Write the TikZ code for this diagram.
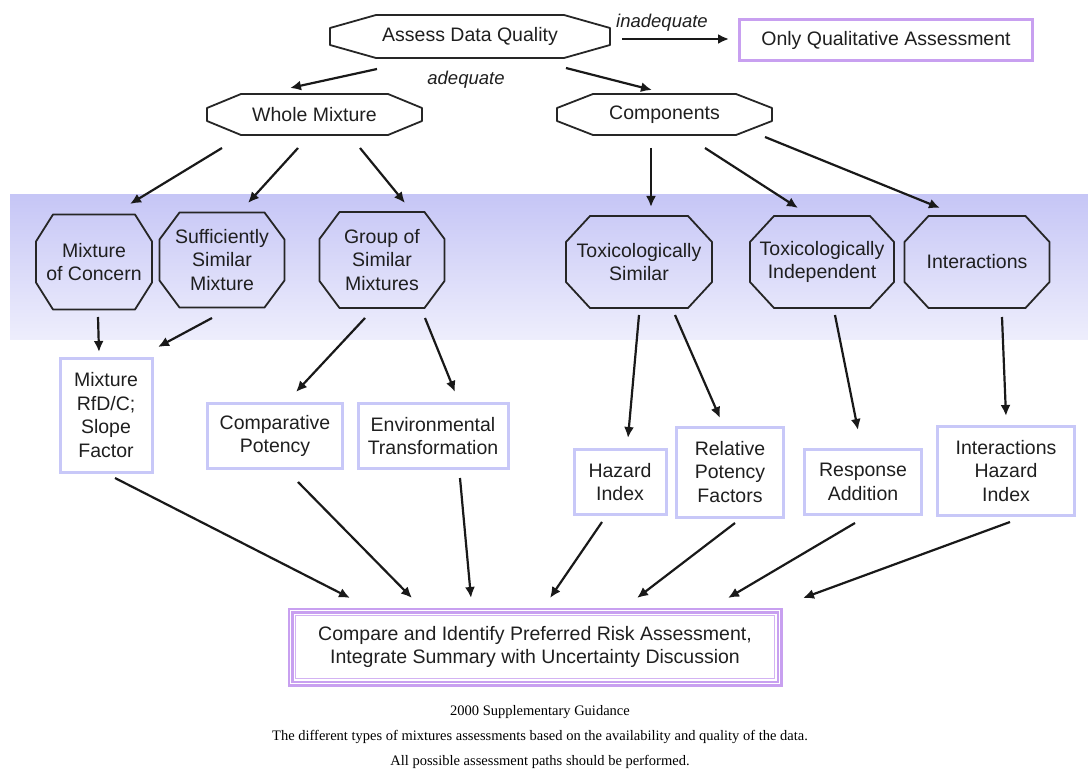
\documentclass[tikz,border=0pt]{standalone}
\usepackage{fontspec}
\setmainfont{Liberation Sans}
\newfontfamily\capfont{Liberation Serif}
\usetikzlibrary{arrows.meta,calc}
\definecolor{lav}{RGB}{200,200,248}
\definecolor{purp}{RGB}{200,160,240}
\definecolor{bandtop}{RGB}{198,198,246}
\definecolor{bandbot}{RGB}{238,238,252}
\newcommand\octshape[8]{%
  \node[lbl, minimum width=#4pt, minimum height=#5pt] (#1) at (#2,#3) {#8};
  \draw[shp] ([xshift=#6pt]#1.north west) -- ([xshift=-#6pt]#1.north east)
    -- ([yshift=-#7pt]#1.north east) -- ([yshift=#7pt]#1.south east)
    -- ([xshift=-#6pt]#1.south east) -- ([xshift=#6pt]#1.south west)
    -- ([yshift=#7pt]#1.south west) -- ([yshift=-#7pt]#1.north west) -- cycle;}
\newcommand\conn[4]{\draw[arr] ([shift={#2}]#1.center) -- ([shift={#4}]#3.center);}
\begin{document}
\begin{tikzpicture}[x=1pt,y=-1pt,
  lbl/.style={inner sep=0pt, outer sep=0pt, align=center,
    font=\fontsize{19.5}{23.5}\selectfont, text=black!88},
  shp/.style={draw=black!85, line width=1.8pt, line join=round},
  bx/.style={lbl, draw=lav, line width=3pt},
  lab/.style={inner sep=0pt, font=\itshape\fontsize{18.5}{22}\selectfont, text=black!88},
  captext/.style={inner sep=0pt, font=\capfont\fontsize{14.5}{17}\selectfont},
  arr/.style={-{Latex[length=11pt,width=10pt]}, line width=2.2pt, draw=black!90}]
\useasboundingbox (0,0) rectangle (1088,778);
\shade[top color=bandtop, bottom color=bandbot] (10,195) rectangle (1088,340);

\octshape{adq}{470}{36.5}{280}{43}{46}{13}{Assess Data Quality}
\octshape{wm}{314.5}{114.5}{215}{41}{34}{14}{Whole Mixture}
\octshape{comp}{664.5}{114.5}{215}{41}{36}{14}{Components}
\octshape{moc}{94}{262}{116}{95}{17}{27}{Mixture\\of Concern}
\octshape{ssm}{222}{260}{125}{95}{20}{27}{Sufficiently\\Similar\\Mixture}
\octshape{gsm}{382}{260}{125}{96}{20}{27}{Group of\\Similar\\Mixtures}
\octshape{ts}{639}{262}{146}{92}{24}{26}{Toxicologically\\Similar}
\octshape{ti}{822}{262}{144}{92}{24}{26}{Toxicologically\\Independent}
\octshape{int}{977}{262}{145}{92}{24}{26}{Interactions}

\node[bx, draw=purp, minimum width=293pt, minimum height=41pt] (oqa) at (886,40.5) {Only Qualitative Assessment};
\node[bx, minimum width=92pt, minimum height=114pt] (rfd) at (106,415) {Mixture\\RfD/C;\\Slope\\Factor};
\node[bx, minimum width=135pt, minimum height=65pt] (cp) at (275,436) {Comparative\\Potency};
\node[bx, minimum width=150pt, minimum height=65pt] (et) at (433,436) {Environmental\\Transformation};
\node[bx, minimum width=92pt, minimum height=65pt] (hi) at (620,482) {Hazard\\Index};
\node[bx, minimum width=107pt, minimum height=90pt] (rpf) at (730,472) {Relative\\Potency\\Factors};
\node[bx, minimum width=117pt, minimum height=65pt] (ra) at (863,482) {Response\\Addition};
\node[bx, minimum width=137pt, minimum height=89pt] (ihi) at (1006,471) {Interactions\\Hazard\\Index};
\node[lbl, draw=purp, line width=2.2pt, double=white, double distance=1.6pt,
  minimum width=489pt, minimum height=73pt] (final) at (535,647)
  {Compare and Identify Preferred Risk Assessment,\\Integrate Summary with Uncertainty Discussion};
\draw[purp!80, line width=1.4pt] ([shift={(5,5)}]final.north west) rectangle ([shift={(-5,-5)}]final.south east);

\node[lab] (inad) at (662,23) {inadequate};
\node[lab] (adql) at (466,80) {adequate};

\conn{adq}{(-93,32.5)}{wm}{(-24.5,-26.5)}
\conn{adq}{(96,31.5)}{comp}{(-12.5,-24.5)}
\conn{adq}{(152,2.5)}{oqa}{(-157,-1.5)}
\conn{wm}{(-92.5,33.5)}{moc}{(36,-58)}
\conn{wm}{(-16.5,33.5)}{ssm}{(26,-57)}
\conn{wm}{(45.5,33.5)}{gsm}{(23,-57)}
\conn{comp}{(-13.5,33.5)}{ts}{(12,-55)}
\conn{comp}{(40.5,33.5)}{ti}{(-24,-54)}
\conn{comp}{(100.5,22.5)}{int}{(-37,-54)}
\conn{moc}{(4,55)}{rfd}{(-7,-63)}
\conn{ssm}{(-10,58)}{rfd}{(52,-68)}
\conn{gsm}{(-17,58)}{cp}{(21,-44)}
\conn{gsm}{(43,58)}{et}{(22,-44)}
\conn{ts}{(0,53)}{hi}{(8,-44)}
\conn{ts}{(36,53)}{rpf}{(-10,-54)}
\conn{ti}{(13,53)}{ra}{(-5,-52)}
\conn{int}{(25,55)}{ihi}{(0,-55)}
\conn{rfd}{(9,63)}{final}{(-185,-49)}
\conn{cp}{(23,46)}{final}{(-123,-49)}
\conn{et}{(27,42)}{final}{(-64,-49)}
\conn{hi}{(-18,40)}{final}{(15,-49)}
\conn{rpf}{(5,51)}{final}{(102,-49)}
\conn{ra}{(-8,41)}{final}{(193,-49)}
\conn{ihi}{(4,51)}{final}{(268,-49)}

\node[captext] (c1) at (540,712) {2000 Supplementary Guidance};
\node[captext] (c2) at (540,737) {The different types of mixtures assessments based on the availability and quality of the data.};
\node[captext] (c3) at (540,762) {All possible assessment paths should be performed.};
\end{tikzpicture}
\end{document}
